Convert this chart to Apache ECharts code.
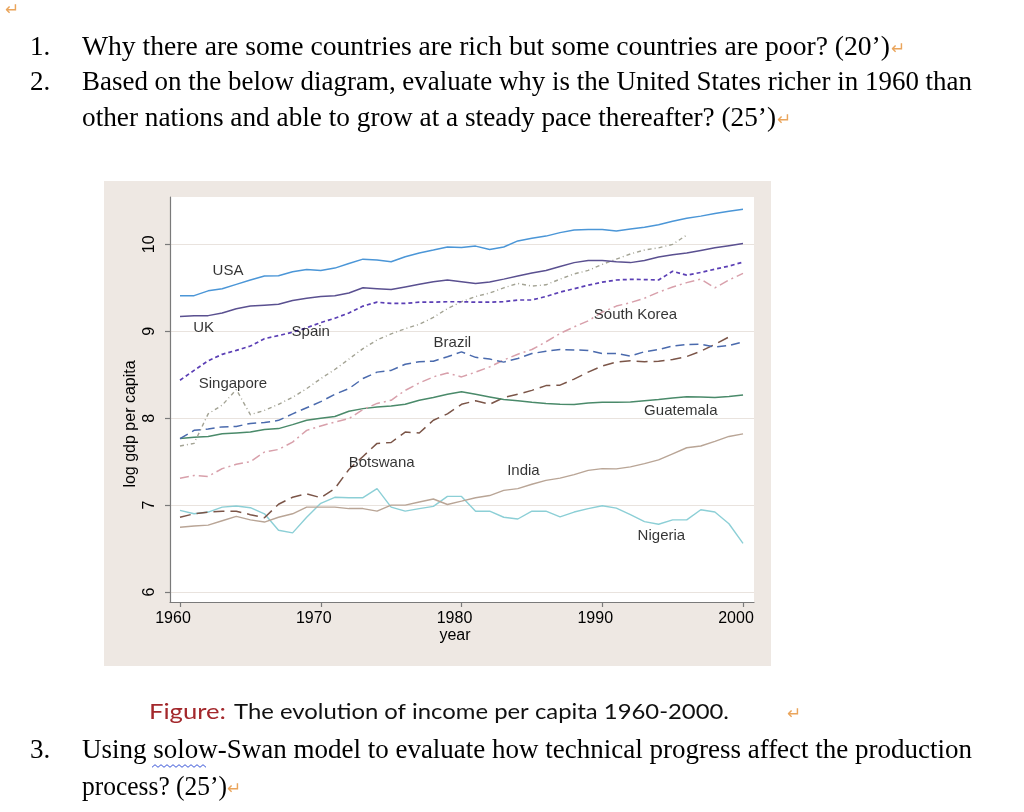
<!DOCTYPE html>
<html><head><meta charset="utf-8">
<script src="https://cdn.jsdelivr.net/npm/echarts@6/dist/echarts.min.js"></script>
<style>html,body{margin:0;padding:0;background:#fff}#c{width:1024px;height:812px}</style>
</head><body><div id="c"></div>
<script>
const years = [1960,1961,1962,1963,1964,1965,1966,1967,1968,1969,1970,1971,1972,1973,1974,1975,1976,1977,1978,1979,1980,1981,1982,1983,1984,1985,1986,1987,1988,1989,1990,1991,1992,1993,1994,1995,1996,1997,1998,1999,2000];
const usa = [9.41,9.41,9.465,9.49,9.54,9.59,9.635,9.64,9.685,9.71,9.70,9.727,9.78,9.83,9.82,9.80,9.857,9.90,9.934,9.97,9.965,9.98,9.94,9.97,10.04,10.07,10.095,10.135,10.165,10.17,10.17,10.155,10.176,10.196,10.225,10.265,10.30,10.325,10.355,10.38,10.405];
const uk = [9.17,9.18,9.18,9.21,9.26,9.29,9.30,9.31,9.355,9.38,9.40,9.41,9.44,9.50,9.49,9.48,9.51,9.54,9.57,9.59,9.57,9.55,9.566,9.60,9.635,9.67,9.70,9.745,9.79,9.815,9.815,9.80,9.79,9.815,9.855,9.88,9.90,9.93,9.96,9.985,10.01];
const spain = [8.437,8.55,8.66,8.735,8.78,8.83,8.915,8.95,8.99,9.04,9.10,9.15,9.21,9.29,9.335,9.32,9.32,9.335,9.335,9.34,9.34,9.335,9.335,9.34,9.36,9.36,9.40,9.45,9.49,9.53,9.565,9.59,9.597,9.595,9.59,9.69,9.646,9.677,9.715,9.75,9.796];
const singapore = [7.68,7.71,8.05,8.15,8.33,8.04,8.09,8.16,8.24,8.34,8.455,8.56,8.68,8.80,8.90,8.97,9.03,9.08,9.16,9.26,9.34,9.40,9.44,9.50,9.55,9.52,9.535,9.60,9.66,9.70,9.77,9.83,9.89,9.935,9.96,10.0,10.107];
const brazil = [7.765,7.86,7.875,7.90,7.905,7.94,7.95,7.975,8.05,8.12,8.19,8.275,8.34,8.456,8.53,8.55,8.62,8.65,8.656,8.706,8.763,8.70,8.68,8.645,8.687,8.744,8.77,8.79,8.785,8.78,8.744,8.744,8.715,8.765,8.79,8.83,8.847,8.85,8.82,8.836,8.878];
const korea = [7.31,7.34,7.33,7.42,7.47,7.50,7.61,7.64,7.725,7.86,7.91,7.956,7.995,8.10,8.17,8.206,8.32,8.405,8.475,8.52,8.475,8.53,8.59,8.67,8.736,8.79,8.878,8.975,9.05,9.12,9.22,9.29,9.33,9.38,9.45,9.51,9.56,9.60,9.50,9.59,9.666];
const guatemala = [7.765,7.78,7.79,7.82,7.83,7.84,7.87,7.88,7.926,7.976,8.0,8.02,8.08,8.11,8.13,8.14,8.16,8.206,8.237,8.275,8.305,8.275,8.245,8.214,8.2,8.183,8.168,8.16,8.157,8.175,8.183,8.183,8.186,8.2,8.214,8.233,8.247,8.245,8.237,8.25,8.267];
const botswana = [6.86,6.90,6.92,6.93,6.93,6.89,6.855,7.01,7.09,7.13,7.085,7.19,7.41,7.56,7.71,7.72,7.84,7.83,7.976,8.05,8.16,8.20,8.16,8.237,8.275,8.32,8.375,8.38,8.45,8.53,8.60,8.645,8.66,8.65,8.655,8.675,8.71,8.77,8.85,8.935];
const india = [6.745,6.76,6.77,6.82,6.87,6.83,6.805,6.86,6.90,6.977,6.977,6.977,6.96,6.96,6.93,7.0,7.0,7.035,7.07,7.007,7.045,7.085,7.11,7.17,7.19,7.24,7.285,7.31,7.35,7.40,7.42,7.417,7.44,7.477,7.52,7.59,7.66,7.68,7.734,7.79,7.82];
const nigeria = [6.94,6.90,6.92,6.977,6.99,6.97,6.90,6.71,6.68,6.86,7.02,7.09,7.085,7.085,7.19,6.977,6.93,6.96,6.985,7.10,7.10,6.93,6.93,6.86,6.84,6.93,6.93,6.865,6.92,6.96,6.993,6.965,6.89,6.81,6.78,6.83,6.83,6.947,6.92,6.785,6.56];
const xTicks = [1960,1970,1980,1990,2000];
const yTicks = [6,7,8,9,10];
const labelNames = ['USA','UK','Spain','Singapore','Brazil','South Korea','Guatemala','Botswana','India','Nigeria'];
const labelYears = [1963.41,1961.68,1969.29,1963.76,1979.35,1992.36,1995.58,1974.33,1984.4,1994.2];
const labelValues = [9.69,9.036,8.99,8.39,8.863,9.185,8.09,7.484,7.392,6.643];

function pairs(vals){ return vals.map(function(v,i){ return [years[i], v]; }); }

const seriesDefs = [
  {name:'Nigeria', data:nigeria, color:'#8ccfd6', type:'solid', width:1.4},
  {name:'India', data:india, color:'#b9a596', type:'solid', width:1.4},
  {name:'Botswana', data:botswana, color:'#7b5548', type:[11,6], width:1.5},
  {name:'Guatemala', data:guatemala, color:'#4a8a6a', type:'solid', width:1.5},
  {name:'South Korea', data:korea, color:'#d8a0ab', type:[9,4,2,4], width:1.5},
  {name:'Brazil', data:brazil, color:'#4a6aad', type:[9,5], width:1.5},
  {name:'Singapore', data:singapore, color:'#a3a394', type:[4,3,1,3], width:1.4},
  {name:'Spain', data:spain, color:'#5b3fb5', type:[4,3], width:1.7},
  {name:'UK', data:uk, color:'#5a5090', type:'solid', width:1.5},
  {name:'USA', data:usa, color:'#4b96d7', type:'solid', width:1.5}
];

const serif = '"Liberation Serif", "Times New Roman", serif';
const sans = 'Lato, "Open Sans", sans-serif';
const labelFont = '"Liberation Sans", Arial, sans-serif';
const mctx = document.createElement('canvas').getContext('2d');
function fitText(text, x, y, w, size, family, color) {
  const font = size + 'px ' + family;
  mctx.font = font;
  const m = mctx.measureText(text).width;
  return {type:'text', x:x, y:y, scaleX: w / m, silent:true, z:10,
    style:{text:text, font:font, fill:color, align:'left', textAlign:'left', verticalAlign:'middle', textVerticalAlign:'middle'}};
}
function retMark(x, y) {
  return {type:'text', x:x, y:y, silent:true, z:10,
    style:{text:'\u21B5', font:'17px "DejaVu Sans"', fill:'#eaa55c', align:'left', textAlign:'left', verticalAlign:'middle', textVerticalAlign:'middle'}};
}
function plain(text, x, y, size, family, color, align, rot) {
  return {type:'text', x:x, y:y, rotation: rot || 0, silent:true, z:10,
    style:{text:text, font:size + 'px ' + family, fill:color, align:align, textAlign:align, verticalAlign:'middle', textVerticalAlign:'middle'}};
}
const wave = [];
for (let i = 0; i <= 18; i++) { wave.push([152 + i * 3, 766 + (i % 2 ? -1.3 : 1.3)]); }

const graphics = [
  {type:'rect', shape:{x:104, y:181, width:667, height:485}, style:{fill:'#eee8e3'}, z:-10, silent:true},
  retMark(5, 11),
  plain('1.', 30, 48, 27, serif, '#000', 'left'),
  fitText('Why there are some countries are rich but some countries are poor? (20\u2019)', 82, 48, 808, 27, serif, '#000'),
  retMark(891, 50),
  plain('2.', 30, 83, 27, serif, '#000', 'left'),
  fitText('Based on the below diagram, evaluate why is the United States richer in 1960 than', 82, 83, 890, 27, serif, '#000'),
  fitText('other nations and able to grow at a steady pace thereafter? (25\u2019)', 82, 119, 694, 27, serif, '#000'),
  retMark(777, 121),
  fitText('Figure:', 149, 712, 77, 22, sans, '#a3282c'),
  fitText('The evolution of income per capita 1960-2000.', 234, 712, 495, 22, sans, '#111'),
  retMark(787, 715),
  plain('3.', 30, 751, 27, serif, '#000', 'left'),
  fitText('Using solow-Swan model to evaluate how technical progress affect the production', 82, 751, 890, 27, serif, '#000'),
  fitText('process? (25\u2019)', 82, 788, 145, 27, serif, '#000'),
  retMark(227, 790),
  {type:'polyline', shape:{points:wave}, style:{stroke:'#3a56d8', lineWidth:1, fill:null}, z:10, silent:true},
  plain('log gdp per capita', 131, 424, 16, labelFont, '#000', 'center', Math.PI / 2),
  plain('year', 455, 636, 16, labelFont, '#000', 'center')
];

const series = seriesDefs.map(function(d){
  return {type:'line', name:d.name, data:pairs(d.data), showSymbol:false, symbol:'none', silent:true,
    lineStyle:{color:d.color, width:d.width, type:d.type}, itemStyle:{color:d.color}, z:3};
});
series.push({type:'scatter', name:'labels', symbolSize:0, silent:true, z:5,
  data: labelNames.map(function(n,i){ return {name:n, value:[labelYears[i], labelValues[i]]}; }),
  label:{show:true, position:'inside', formatter:'{b}', color:'#000', fontSize:15, fontFamily:labelFont}
});

const chart = echarts.init(document.getElementById('c'), null, {renderer:'canvas', width:1024, height:812});
chart.setOption({
  animation:false,
  backgroundColor:'#ffffff',
  grid:{left:170, right:270, top:197, bottom:210, show:true, backgroundColor:'#ffffff', borderWidth:0, containLabel:false},
  xAxis:{type:'value', min:1959.29, max:2000.78,
    axisLine:{show:true, onZero:false, lineStyle:{color:'#7a7a7a', width:1.2}},
    axisTick:{show:true, customValues:xTicks, length:5, inside:false, lineStyle:{color:'#7a7a7a', width:1.2}},
    axisLabel:{show:true, customValues:xTicks, margin:9, color:'#000', fontSize:16, fontFamily:labelFont, padding:[0,14,0,0],
      formatter:function(v){ return String(Math.round(v)); }},
    splitLine:{show:false}},
  yAxis:{type:'value', min:5.885, max:10.545,
    axisLine:{show:true, onZero:false, lineStyle:{color:'#7a7a7a', width:1.2}},
    axisTick:{show:true, customValues:yTicks, length:5, inside:false, lineStyle:{color:'#7a7a7a', width:1.2}},
    axisLabel:{show:true, customValues:yTicks, rotate:90, margin:12, color:'#000', fontSize:16, fontFamily:labelFont,
      formatter:function(v){ return String(Math.round(v)); }},
    splitLine:{show:true, lineStyle:{color:'#e9e3de', width:1}}},
  tooltip:{show:false},
  graphic:graphics,
  series:series
});
</script></body></html>
